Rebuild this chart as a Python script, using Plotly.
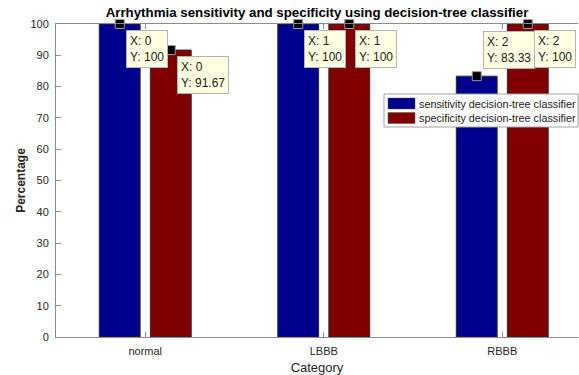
import plotly.graph_objects as go

# ---- data -------------------------------------------------------------
categories = ["normal", "LBBB", "RBBB"]
series_names = ["sensitivity decision-tree classifier",
                "specificity decision-tree classifier"]
sensitivity = [100, 100, 83.33]
specificity = [91.67, 100, 100]
y_ticks = [0, 10, 20, 30, 40, 50, 60, 70, 80, 90, 100]

# ---- styling ----------------------------------------------------------
W, H = 579, 375
L, R, T, B = 56, 1, 24, 38
BLUE = "#00008f"
RED = "#800000"
AXIS = "#8c8c8c"
FONT = "Liberation Sans, Arial, sans-serif"

BARGAP = 0.428
GROUPGAP = 0.2
offset = (1 - BARGAP) / 4  # centre of each bar relative to its category

xpos = list(range(len(categories)))

fig = go.Figure()
series = [(series_names[0], sensitivity, BLUE, -offset),
          (series_names[1], specificity, RED, offset)]

for name, vals, col, _ in series:
    fig.add_trace(go.Bar(
        x=xpos, y=vals, name=name, marker_color=col,
        marker_line=dict(color="#2a2a2a", width=1),
        showlegend=False, hoverinfo="skip",
    ))

# data-tip markers and boxes
tip_side = {  # (series index, category index) -> place box above the point
    (0, 2): "up",
}
for si, (name, vals, col, off) in enumerate(series):
    xs = [x + off for x in xpos]
    fig.add_trace(go.Scatter(
        x=xs, y=vals, mode="markers", showlegend=False, hoverinfo="skip",
        marker=dict(symbol="square", size=9, color="black",
                    line=dict(color="#9a9a9a", width=1)),
        cliponaxis=False,
    ))
    for ci, (x, v) in enumerate(zip(xs, vals)):
        up = tip_side.get((si, ci)) == "up"
        fig.add_annotation(
            x=x, y=v, xref="x", yref="y",
            text=f"X: {ci}<br>Y: {v:g}", showarrow=False, align="left",
            xanchor="left", yanchor="bottom" if up else "top",
            xshift=6, yshift=7 if up else -6,
            bgcolor="#ffffe1", bordercolor="#b4b4b4", borderwidth=1,
            borderpad=3, font=dict(family=FONT, size=12, color="#1a1a1a"),
        )

# legend drawn as a box with wide swatches
pw, ph = W - L - R, H - T - B
def px(xp):
    return (xp - L) / pw
def py(yp):
    return (H - B - yp) / ph

fig.add_shape(type="rect", xref="paper", yref="paper",
              x0=px(384), x1=px(578), y0=py(127), y1=py(94),
              fillcolor="white", line=dict(color="#a0a0a0", width=1))
for i, (name, vals, col, _) in enumerate(series):
    top = 98 + i * 14.5
    fig.add_shape(type="rect", xref="paper", yref="paper",
                  x0=px(388), x1=px(415), y0=py(top + 11), y1=py(top),
                  fillcolor=col, line=dict(color="#555555", width=0.5))
    fig.add_annotation(x=px(417), y=py(top + 5.5), xref="paper", yref="paper",
                       text=name, showarrow=False, xanchor="left",
                       yanchor="middle",
                       font=dict(family=FONT, size=10.8, color="#1a1a1a"))

fig.update_layout(
    width=W, height=H,
    margin=dict(l=L, r=R, t=T, b=B, pad=0),
    paper_bgcolor="white", plot_bgcolor="white",
    barmode="group", bargap=BARGAP, bargroupgap=GROUPGAP,
    title=dict(text="<b>Arrhythmia sensitivity and specificity using decision-tree classifier</b>",
               x=(L + pw / 2) / W, xanchor="center", y=1 - 12 / H, yanchor="middle",
               font=dict(family=FONT, size=13.3, color="black")),
    font=dict(family=FONT, color="#262626"),
    showlegend=False,
)

fig.update_xaxes(
    range=[-0.5, -0.5 + pw / 178.5],
    tickvals=xpos, ticktext=categories,
    ticks="inside", ticklen=5, tickcolor=AXIS,
    showline=True, linecolor=AXIS, linewidth=1, mirror="ticks",
    showgrid=False, zeroline=False,
    tickfont=dict(family=FONT, size=11, color="#262626"),
    ticklabelstandoff=4,
    title=dict(text="Category", font=dict(family=FONT, size=13, color="#262626"),
               standoff=6),
)
fig.update_yaxes(
    range=[0, 100], tickvals=y_ticks,
    ticks="inside", ticklen=5, tickcolor=AXIS,
    showline=True, linecolor=AXIS, linewidth=1, mirror=False,
    showgrid=False, zeroline=False,
    tickfont=dict(family=FONT, size=11, color="#262626"),
    ticklabelstandoff=4,
    title=dict(text="<b>Percentage</b>", font=dict(family=FONT, size=12, color="#262626"),
               standoff=2),
)

fig.write_html("out.html")
